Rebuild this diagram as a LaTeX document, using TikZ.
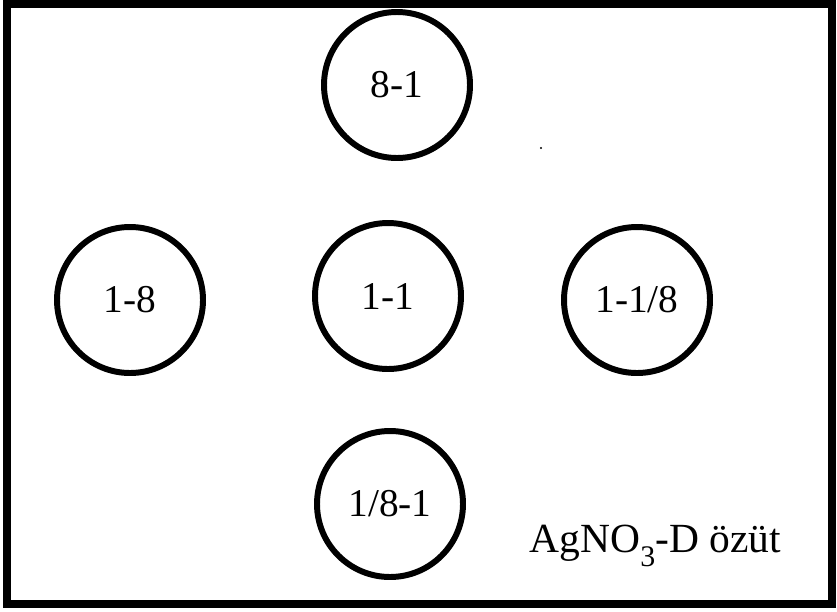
\documentclass[tikz,border=0pt]{standalone}
\usepackage{fontspec}
\setmainfont{Liberation Serif}
\usepackage{tikz}

\begin{document}
\begin{tikzpicture}[font=\fontsize{11.2}{13}\selectfont,
	well/.style={draw, circle, line width=1.7pt, minimum size=1.46cm, inner sep=0pt}]
		\useasboundingbox (0,0) rectangle (8.37,6.11);
		\draw[line width=2.3pt] (0.07,0.07) rectangle (8.32,6.07);

		\node[well] (top) at (3.97,5.26) {8-1};
		\node[well] (left) at (1.30,3.11) {1-8};
		\node[well] (mid) at (3.88,3.15) {1-1};
		\node[well] (right) at (6.37,3.11) {1-1/8};
		\node[well] (bottom) at (3.90,1.07) {1/8-1};

		\node[anchor=base west, inner sep=0pt, font=\fontsize{11.8}{14}\selectfont] (plate) at (5.29,0.59)
			{AgNO\raisebox{-0.75ex}{\fontsize{8.5}{10}\selectfont 3}-D özüt};

                \fill (5.41,4.63) circle [radius=0.012];
\end{tikzpicture}
\end{document}
